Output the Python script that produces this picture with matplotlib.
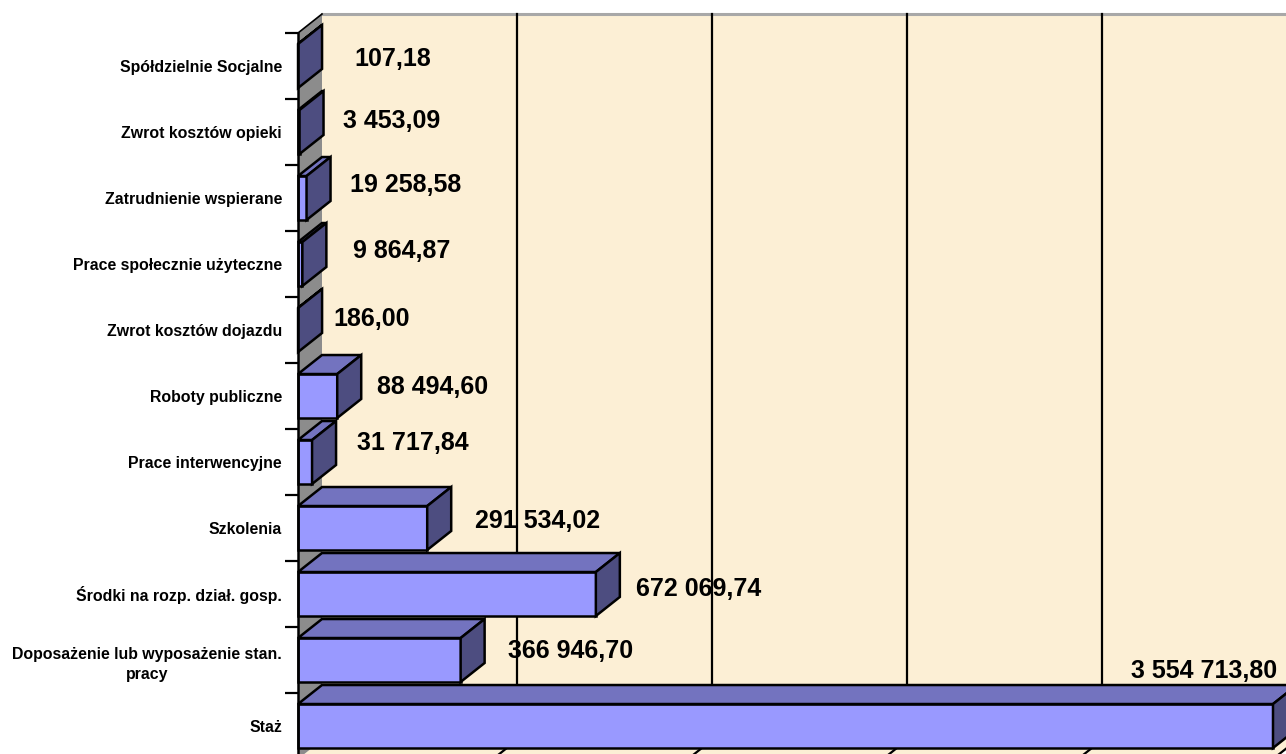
import matplotlib
matplotlib.use("Agg")
import matplotlib.pyplot as plt
from matplotlib.patches import Polygon

plt.rcParams['font.family'] = ['Liberation Sans', 'DejaVu Sans']

# Data (Excel order: first category at bottom)
categories = [
    "Staż",
    "Doposażenie lub wyposażenie stan.\npracy",
    "Środki na rozp. dział. gosp.",
    "Szkolenia",
    "Prace interwencyjne",
    "Roboty publiczne",
    "Zwrot kosztów dojazdu",
    "Prace społecznie użyteczne",
    "Zatrudnienie wspierane",
    "Zwrot kosztów opieki",
    "Spółdzielnie Socjalne",
]
values = [3554713.80, 366946.70, 672069.74, 291534.02, 31717.84, 88494.60,
          186.00, 9864.87, 19258.58, 3453.09, 107.18]
value_labels = ["3 554 713,80", "366 946,70", "672 069,74", "291 534,02",
                "31 717,84", "88 494,60", "186,00", "9 864,87", "19 258,58",
                "3 453,09", "107,18"]

# axis settings
x_max = 2200000
x_step = 440000

# label offsets (pixels) from bar end, layout only
label_dx = [4, 47, 40, 48, 45, 40, 35, 51, 43, 43, 56]
label_dy = [57, 11, 8, 10, 21, 11, 14, 15, 16, 14, 10]

W, H = 1286, 754
fig = plt.figure(figsize=(W / 100, H / 100), dpi=100)
fig.patch.set_facecolor("white")

x0_px, x1_px = 298, 1273
y_top_px, y_bot_px = 33, 759
ax = fig.add_axes([x0_px / W, (H - y_bot_px) / H, (x1_px - x0_px) / W, (y_bot_px - y_top_px) / H])
n = len(categories)
ax.set_xlim(0, x_max)
ax.set_ylim(-0.5, n - 0.5)
ax.set_facecolor("none")

# depth offsets in data units
px_x = x_max / (x1_px - x0_px)
px_y = n / (y_bot_px - y_top_px)
ddx = 24 * px_x
ddy = 19 * px_y

wall_col = "#FCEFD5"
side_wall_col = "#8C8C8C"
front_col = "#9999FF"
top_col = "#7373BF"
side_col = "#4D4D80"
lw = 1.8

# back wall
ax.add_patch(Polygon([(ddx, -0.5 + ddy), (x_max + ddx, -0.5 + ddy),
                      (x_max + ddx, n - 0.5 + ddy), (ddx, n - 0.5 + ddy)],
                     closed=True, facecolor=wall_col, edgecolor="none", clip_on=False, zorder=1))
ax.plot([ddx, x_max + ddx], [n - 0.5 + ddy] * 2, color="#A8A8A8", lw=2.2, clip_on=False, zorder=2)
# floor
ax.add_patch(Polygon([(0, -0.5), (x_max, -0.5), (x_max + ddx, -0.5 + ddy), (ddx, -0.5 + ddy)],
                     closed=True, facecolor=wall_col, edgecolor="none", clip_on=False, zorder=1))
# gridlines
k = 1
while k * x_step < x_max + 1:
    gx = k * x_step
    ax.plot([gx + ddx, gx + ddx], [-0.5 + ddy, n - 0.5 + ddy], color="black", lw=1.6, clip_on=False, zorder=2)
    ax.plot([gx, gx + ddx], [-0.5, -0.5 + ddy], color="black", lw=1.6, clip_on=False, zorder=2)
    k += 1
# left (side) wall
ax.add_patch(Polygon([(0, -0.5), (0, n - 0.5), (ddx, n - 0.5 + ddy), (ddx, -0.5 + ddy)],
                     closed=True, facecolor=side_wall_col, edgecolor="none", clip_on=False, zorder=2))
ax.plot([0, ddx], [n - 0.5, n - 0.5 + ddy], color="black", lw=1.2, clip_on=False, zorder=2)

# bars
hh = 0.333
z = 3
for i in range(n - 1, -1, -1):
    v = min(values[i], x_max)
    y_lo, y_hi = i - hh, i + hh
    ax.barh(i, v, height=2 * hh, left=0, color=front_col, edgecolor="black",
            linewidth=lw, zorder=z, clip_on=False)
    ax.add_patch(Polygon([(0, y_hi), (v, y_hi), (v + ddx, y_hi + ddy), (ddx, y_hi + ddy)],
                         closed=True, facecolor=top_col, edgecolor="black", lw=lw,
                         joinstyle="miter", clip_on=False, zorder=z))
    ax.add_patch(Polygon([(v, y_lo), (v, y_hi), (v + ddx, y_hi + ddy), (v + ddx, y_lo + ddy)],
                         closed=True, facecolor=side_col, edgecolor="black", lw=lw,
                         joinstyle="miter", clip_on=False, zorder=z))
    z += 1

# value labels
for i in range(n):
    v = min(values[i], x_max)
    ha = "right" if values[i] > x_max else "left"
    ax.annotate(value_labels[i], xy=(v, i), xytext=(label_dx[i], label_dy[i]),
                textcoords="offset pixels", ha=ha, va="center_baseline",
                fontsize=18, fontweight="bold", color="black", zorder=50,
                annotation_clip=False)

# axes styling
for s in ["top", "right", "bottom"]:
    ax.spines[s].set_visible(False)
ax.spines["left"].set_linewidth(1.8)
ax.spines["left"].set_zorder(40)
ax.set_xticks([])
ax.set_yticks([i - 0.5 for i in range(n + 1)])
ax.set_yticklabels([])
ax.tick_params(axis="y", which="major", length=9.5, width=1.6, direction="out")
ax.set_yticks(range(n), minor=True)
ax.set_yticklabels(categories, minor=True, fontsize=11.4, fontweight="bold",
                   multialignment="center", linespacing=1.5)
ax.tick_params(axis="y", which="minor", length=0, pad=11.5)

fig.savefig("out.png", dpi=100)
